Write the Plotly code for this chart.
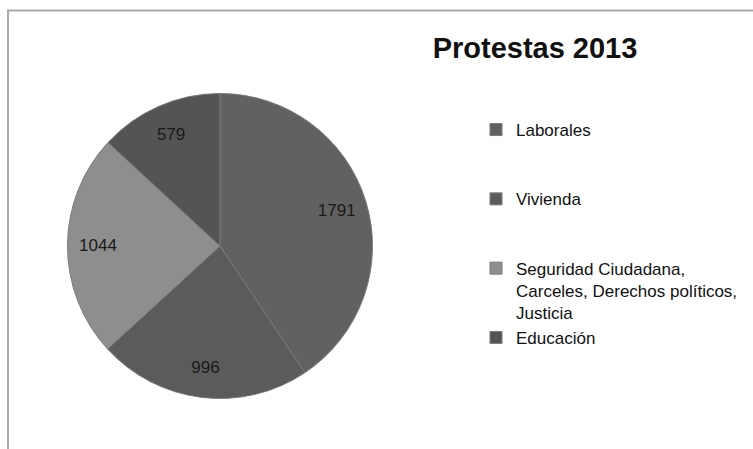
import plotly.graph_objects as go

# Protest counts for 2013 by topic
categories = [
    "Laborales",
    "Vivienda",
    "Seguridad Ciudadana,<br>Carceles, Derechos políticos,<br>Justicia",
    "Educación",
]
protests = [1791, 996, 1044, 579]

slice_colors = ["#616161", "#5b5b5b", "#8e8e8e", "#545454"]
# blank lines appended to legend entries to spread them down the right side
legend_pad = [2, 2, 0, 0]

W, H = 753, 449
FONT = "Liberation Sans, Arial, sans-serif"

legend_names = [c + "<br>\u00a0" * p for c, p in zip(categories, legend_pad)]

pie_dom_x = [67.5 / W, 372.5 / W]
pie_dom_y = [1 - 398.5 / H, 1 - 93.5 / H]

fig = go.Figure()

# the pie itself: fills, slice separators and legend
fig.add_trace(go.Pie(
    labels=legend_names,
    values=protests,
    sort=False,
    direction="clockwise",
    rotation=0,
    marker=dict(colors=slice_colors, line=dict(color="#7a7a7a", width=1)),
    textinfo="none",
    hoverinfo="value",
    showlegend=True,
    domain=dict(x=pie_dom_x, y=pie_dom_y),
))

# transparent ring on top: places the value labels out towards the rim
fig.add_trace(go.Pie(
    labels=legend_names,
    values=protests,
    sort=False,
    direction="clockwise",
    rotation=0,
    hole=0.6,
    marker=dict(colors=["rgba(0,0,0,0)"] * len(protests), line=dict(width=0)),
    textinfo="value",
    textposition="inside",
    insidetextorientation="horizontal",
    insidetextfont=dict(family=FONT, size=17, color="#1a1a1a"),
    hoverinfo="value",
    showlegend=False,
    domain=dict(x=pie_dom_x, y=pie_dom_y),
))

fig.update_layout(
    width=W,
    height=H,
    margin=dict(l=0, r=0, t=0, b=0),
    paper_bgcolor="white",
    plot_bgcolor="white",
    title=dict(
        text="<b>Protestas 2013</b>",
        font=dict(family=FONT, size=29, color="#111111"),
        x=535 / W,
        xanchor="center",
        xref="paper",
        y=1 - 48 / H,
        yanchor="middle",
        yref="container",
    ),
    legend=dict(
        x=476 / W,
        xanchor="left",
        y=1 - 112 / H,
        yanchor="top",
        valign="top",
        font=dict(family=FONT, size=17, color="#111111"),
        bgcolor="rgba(0,0,0,0)",
        traceorder="normal",
    ),
    shapes=[
        # chart frame (top and left edges visible)
        dict(
            type="rect",
            xref="paper", yref="paper",
            x0=8 / W, x1=1.2,
            y0=-0.2, y1=1 - 10.5 / H,
            line=dict(color="#a9a9a9", width=2),
            fillcolor="rgba(0,0,0,0)",
            layer="below",
        )
    ],
)

fig.write_html("out.html")
